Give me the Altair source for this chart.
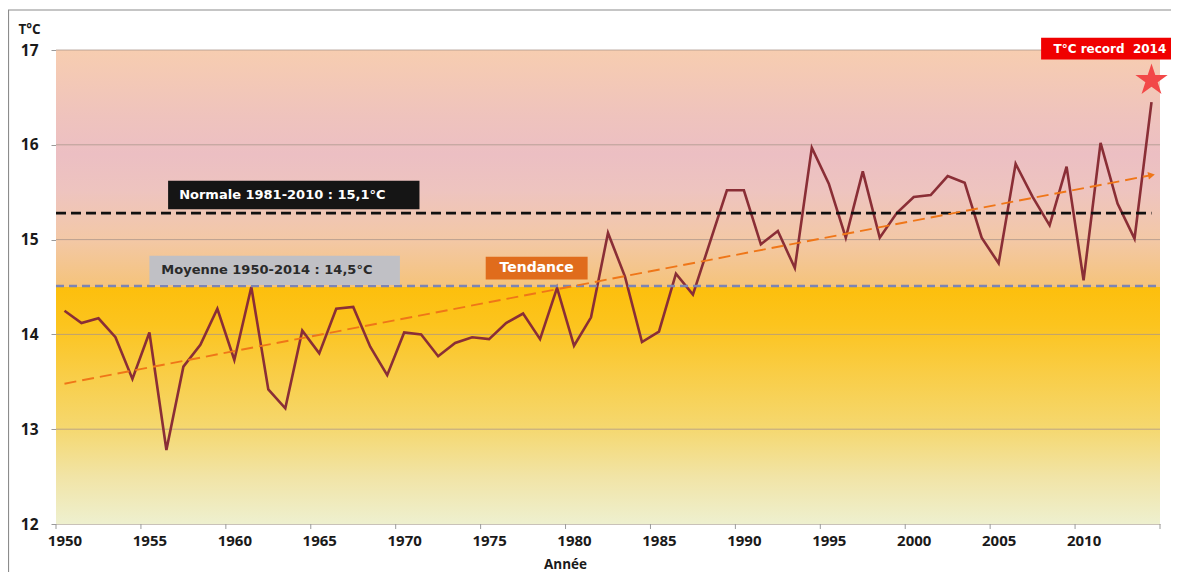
import altair as alt
import pandas as pd

# ---------------- data ----------------
years = list(range(1950, 2015))
temps = [14.25, 14.12, 14.17, 13.97, 13.53, 14.02, 12.78, 13.66, 13.89, 14.27,
         13.73, 14.50, 13.42, 13.22, 14.04, 13.80, 14.27, 14.29, 13.87, 13.57,
         14.02, 14.00, 13.77, 13.91, 13.97, 13.95, 14.12, 14.22, 13.95, 14.49,
         13.88, 14.18, 15.07, 14.61, 13.92, 14.03, 14.64, 14.42, 14.97, 15.52,
         15.52, 14.95, 15.09, 14.70, 15.97, 15.59, 15.02, 15.72, 15.02, 15.28,
         15.45, 15.47, 15.67, 15.60, 15.02, 14.75, 15.80, 15.45, 15.15, 15.77,
         14.57, 16.02, 15.38, 15.01, 16.45]

x_ticks = [1950, 1955, 1960, 1965, 1970, 1975, 1980, 1985, 1990, 1995, 2000, 2005, 2010]
y_ticks = [12, 13, 14, 15, 16, 17]
grid_values = [13, 14, 15, 16, 17]

normale_years = [1949.5, 2014.0]
normale_value = 15.28
moyenne_years = [1949.5, 2014.5]
moyenne_value = 14.51
trend_years = [1950, 2014]
trend_values = [13.48, 15.68]
record_year = 2014
record_star_value = 16.68

# annotation boxes (data units)
box_text = ["Normale 1981-2010 : 15,1°C", "Moyenne 1950-2014 : 14,5°C", "Tendance", "T°C record\u00a0\u00a02014"]
box_x1 = [1956.1, 1955.0, 1974.8, 2007.5]
box_x2 = [1970.9, 1969.75, 1980.8, 2015.6]
box_y1 = [15.62, 14.83, 14.82, 17.13]
box_y2 = [15.32, 14.52, 14.58, 16.90]
box_fill = ["#151515", "#c0c0c5", "#e06c1c", "#f00000"]
text_x = [1956.75, 1955.7, 1977.8, 2011.55]
text_y = [15.47, 14.68, 14.70, 17.015]
text_color = ["#ffffff", "#2a2a2a", "#ffffff", "#ffffff"]
text_align = ["left", "left", "center", "center"]
text_size = [13, 13, 14, 12]

W, H = 1104, 474
FONT = "Open Sans"
ANN_FONT = "DejaVu Sans"

x_scale = alt.Scale(domain=[1949.5, 2014.5], nice=False, zero=False)
y_scale = alt.Scale(domain=[12, 17], nice=False, zero=False)

df = pd.DataFrame({"year": years, "temp": temps})

# background gradient
bg = alt.Chart(pd.DataFrame({"a": [0]})).mark_rect(
    color=alt.Gradient(
        gradient="linear", x1=0, x2=0, y1=0, y2=1,
        stops=[
            alt.GradientStop(color="#f7cdb0", offset=0.0),
            alt.GradientStop(color="#efc3bd", offset=0.14),
            alt.GradientStop(color="#ecbfc3", offset=0.22),
            alt.GradientStop(color="#eec4bf", offset=0.30),
            alt.GradientStop(color="#f3c8a6", offset=0.40),
            alt.GradientStop(color="#f5c37a", offset=0.5),
            alt.GradientStop(color="#fdbf0c", offset=0.5),
            alt.GradientStop(color="#fcc41e", offset=0.58),
            alt.GradientStop(color="#f9cd45", offset=0.68),
            alt.GradientStop(color="#f5d870", offset=0.80),
            alt.GradientStop(color="#f1e4a6", offset=0.90),
            alt.GradientStop(color="#eef0cf", offset=1.0),
        ],
    )
).encode(x=alt.value(0), x2=alt.value(W), y=alt.value(0), y2=alt.value(H))

grid = alt.Chart(pd.DataFrame({"g": grid_values})).mark_rule(
    color="#a8948a", strokeWidth=1, opacity=0.75
).encode(
    y=alt.Y("g:Q", scale=y_scale),
    x=alt.value(0), x2=alt.value(W),
)

ticks = alt.Chart(pd.DataFrame({"t": [y - 0.5 for y in x_ticks] + [2014.5]})).mark_rule(
    color="#9a9a9a", strokeWidth=1
).encode(
    x=alt.X("t:Q", scale=x_scale),
    y=alt.value(H), y2=alt.value(H + 5),
)

line = alt.Chart(df).mark_line(color="#8a2e36", strokeWidth=2.6).encode(
    x=alt.X("year:Q", scale=x_scale,
            axis=alt.Axis(values=x_ticks, format="d", title="Année", ticks=False,
                          grid=False, domainColor="#c9c2b8", labelPadding=9,
                          labelFontSize=15,
                          labelFlush=False, labelOverlap=False,
                          titleX=509, titleY=44, titleAlign="center",
                          titleBaseline="alphabetic", titleFontSize=13.5)),
    y=alt.Y("temp:Q", scale=y_scale,
            axis=alt.Axis(values=y_ticks, format="d", title="T°C", grid=False,
                          tickSize=5, tickColor="#9a9a9a", domainColor="#c9c2b8",
                          labelPadding=13, labelFlush=False, labelOverlap=False,
                          titleAngle=0, titleX=-38, titleY=-17,
                          titleAlign="left", titleBaseline="alphabetic",
                          titleFontSize=13.5)),
)

moy = alt.Chart(pd.DataFrame({"x": moyenne_years, "v": [moyenne_value] * 2})).mark_line(
    color="#7c84b4", strokeWidth=2.4, strokeDash=[8, 5]
).encode(x=alt.X("x:Q", scale=x_scale), y=alt.Y("v:Q", scale=y_scale))

norm = alt.Chart(pd.DataFrame({"x": normale_years, "v": [normale_value] * 2})).mark_line(
    color="#111111", strokeWidth=2.8, strokeDash=[10, 5]
).encode(x=alt.X("x:Q", scale=x_scale), y=alt.Y("v:Q", scale=y_scale))

trend = alt.Chart(pd.DataFrame({"x": trend_years, "v": trend_values})).mark_line(
    color="#ef7618", strokeWidth=1.9, strokeDash=[12, 6]
).encode(x=alt.X("x:Q", scale=x_scale), y=alt.Y("v:Q", scale=y_scale))

arrow = alt.Chart(pd.DataFrame({"x": [trend_years[-1]], "v": [trend_values[-1]]})).mark_point(
    shape="triangle-right", filled=True, size=60, angle=349, color="#ef7618", opacity=1
).encode(x=alt.X("x:Q", scale=x_scale), y=alt.Y("v:Q", scale=y_scale))

STAR = ("M0,-1 L0.2245,-0.309 L0.9511,-0.309 L0.3633,0.118 L0.5878,0.809 "
        "L0,0.382 L-0.5878,0.809 L-0.3633,0.118 L-0.9511,-0.309 L-0.2245,-0.309 Z")
star = alt.Chart(pd.DataFrame({"x": [record_year], "v": [record_star_value]})).mark_point(
    shape=STAR, filled=True, size=1150, color="#f24848", opacity=1
).encode(x=alt.X("x:Q", scale=x_scale), y=alt.Y("v:Q", scale=y_scale))

boxes_df = pd.DataFrame({"x1": box_x1, "x2": box_x2, "y1": box_y1, "y2": box_y2,
                         "fill": box_fill})
boxes = alt.Chart(boxes_df).mark_rect().encode(
    x=alt.X("x1:Q", scale=x_scale), x2="x2:Q",
    y=alt.Y("y1:Q", scale=y_scale), y2="y2:Q",
    color=alt.Color("fill:N", scale=None),
)

texts = []
for i in range(len(box_text)):
    t = alt.Chart(pd.DataFrame({"x": [text_x[i]], "v": [text_y[i]], "s": [box_text[i]]})).mark_text(
        font=ANN_FONT, fontWeight="bold", fontSize=text_size[i], color=text_color[i],
        align=text_align[i], baseline="middle"
    ).encode(x=alt.X("x:Q", scale=x_scale), y=alt.Y("v:Q", scale=y_scale),
             text="s:N")
    texts.append(t)

frame_left = alt.Chart(pd.DataFrame({"a": [0]})).mark_rule(color="#8c8c8c", strokeWidth=1.2).encode(
    x=alt.value(-47.5), y=alt.value(-40), y2=alt.value(H + 60))
frame_top = alt.Chart(pd.DataFrame({"a": [0]})).mark_rule(color="#8c8c8c", strokeWidth=1.2).encode(
    x=alt.value(-48), x2=alt.value(W + 11), y=alt.value(-40))

chart = alt.layer(
    bg, grid, ticks, line, moy, norm, trend, arrow, star, boxes, *texts, frame_left, frame_top
).properties(
    width=W, height=H,
    autosize=alt.AutoSizeParams(type="none"),
    padding={"left": 48, "top": 42, "right": 11, "bottom": 48},
    background="white",
).configure_view(stroke=None).configure_axis(
    labelFont=FONT, labelFontWeight="bold", labelFontSize=15.5, labelColor="#1a1a1a",
    titleFont=FONT, titleFontWeight="bold", titleFontSize=15.5, titleColor="#1a1a1a",
)

chart.save("out.html", embed_options={"renderer": "svg", "actions": False})
